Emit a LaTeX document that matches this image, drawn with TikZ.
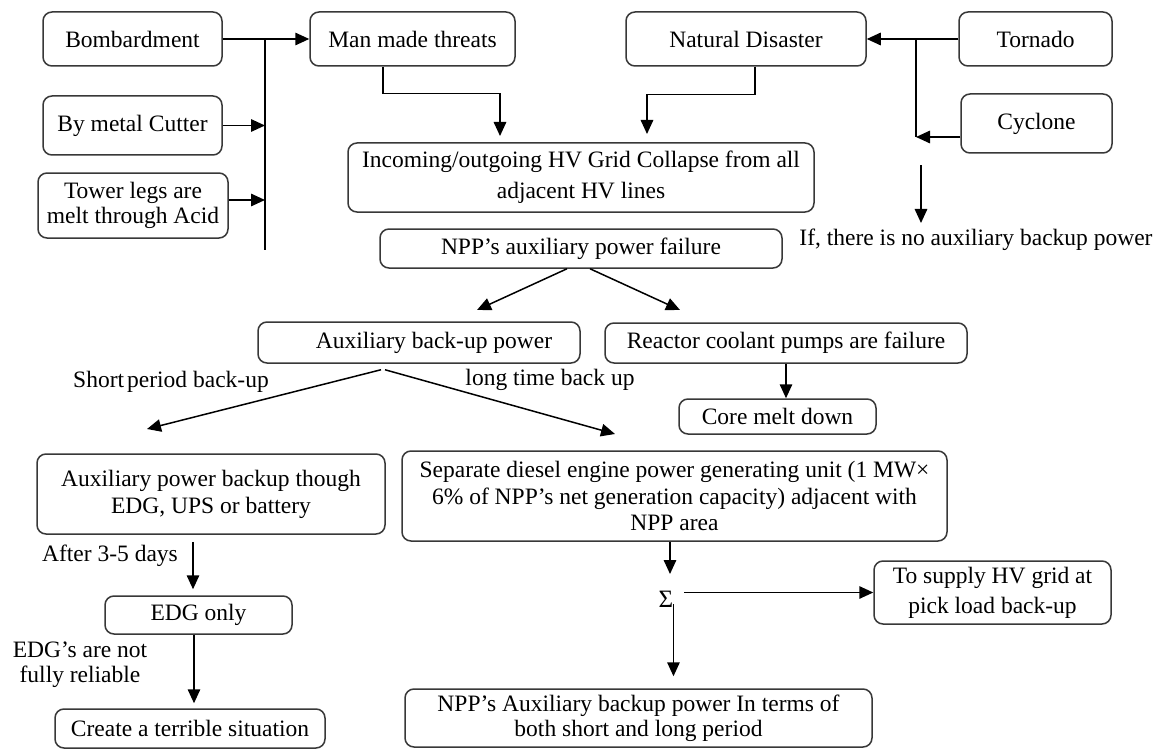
\documentclass[tikz,border=0pt]{standalone}
\usepackage{fontspec}
\setmainfont{Liberation Serif}
\usetikzlibrary{arrows.meta}
\newcommand\dfont{\fontsize{23.5}{26}\selectfont}
\begin{document}
\begin{tikzpicture}[x=1pt,y=-1pt,
  box/.style={draw=black!78, line width=1.5pt, rounded corners=9pt, inner sep=0pt, align=center, font=\dfont},
  lbl/.style={inner sep=1pt, align=center, font=\dfont},
  ln/.style={line width=1.5pt, black},
  arr/.style={ln, -{Triangle[length=14pt,width=12.5pt]}}]
\fill[white] (0,0) rectangle (1159,749);
\useasboundingbox (0,0) rectangle (1159,749);
% boxes
\node[box, minimum width=179, minimum height=54] (bomb) at (132.5,39) {Bombardment};
\node[box, minimum width=179, minimum height=59] (cut) at (132.5,125.5) {By metal Cutter};
\node[box, minimum width=190, minimum height=65, font=\fontsize{23.5}{25}\selectfont] (tower) at (133,205.5) {Tower legs are\\melt through Acid};
\node[box, minimum width=205, minimum height=54] (man) at (412.5,39) {Man made threats};
\node[box, minimum width=240, minimum height=54] (nat) at (746,39) {Natural Disaster};
\node[box, minimum width=153, minimum height=54] (torn) at (1035.5,39) {Tornado};
\node[box, minimum width=151, minimum height=59] (cyc) at (1036.5,123.5) {Cyclone};
\node[box, minimum width=466, minimum height=69, font=\fontsize{23.5}{31}\selectfont] (inc) at (581,177.5) {Incoming/outgoing HV Grid Collapse from all\\adjacent HV lines};
\node[box, minimum width=402, minimum height=39] (npp) at (581,248.5) {NPP’s auxiliary power failure};
\node[box, minimum width=322, minimum height=41] (aux) at (419,342.5) {\hspace{30pt}Auxiliary back-up power};
\node[box, minimum width=362, minimum height=40] (rcp) at (786,343) {Reactor coolant pumps are failure};
\node[box, minimum width=197, minimum height=35] (core) at (777.5,416.5) {Core melt down};
\node[box, minimum width=348, minimum height=80, font=\fontsize{23.5}{27}\selectfont] (apb) at (211,494) {Auxiliary power backup though\\EDG, UPS or battery};
\node[box, minimum width=545, minimum height=90, font=\fontsize{23.5}{26.5}\selectfont] (sep) at (674.5,496) {Separate diesel engine power generating unit (1 MW×\\6\% of NPP’s net generation capacity) adjacent with\\NPP area};
\node[box, minimum width=187, minimum height=38] (edg) at (198.5,615) {EDG only};
\node[box, minimum width=270, minimum height=39] (cre) at (190,728.5) {Create a terrible situation};
\node[box, minimum width=237, minimum height=63, font=\fontsize{23.5}{30}\selectfont] (sup) at (992.5,592.5) {To supply HV grid at\\pick load back-up};
\node[box, minimum width=467, minimum height=58, font=\fontsize{23.5}{25}\selectfont] (npa) at (638.5,718) {NPP’s Auxiliary backup power In terms of\\both short and long period};
% labels
\node[lbl] (iftxt) at (976,240) {If, there is no auxiliary backup power};
\node[lbl] (shortl) at (171,382) {Short\hspace{3pt}period back-up};
\node[lbl] (longl) at (550,380) {long time back up};
\node[lbl] (afterl) at (110,556) {After 3-5 days};
\node[lbl, font=\fontsize{23.5}{25}\selectfont] (edgl) at (80,665) {EDG’s are not\\fully reliable};
\node[inner sep=0pt, font=\fontsize{25}{26}\selectfont] (sig) at (666,599) {Σ};
% coordinates for free ends
\coordinate (bt) at (265,40);
\coordinate (bb) at (265,250);
\coordinate (iA) at (500,136);
\coordinate (iB) at (647,134);
\coordinate (tj) at (916,40);
\coordinate (cj) at (916,137);
\coordinate (dtop) at (921,165);
\coordinate (a1) at (477,310);
\coordinate (a2) at (680,310);
\coordinate (s1) at (147,429);
\coordinate (s2) at (615,434);
\coordinate (sg1) at (670,574);
% connectors
\draw[ln] (bt) -- (bb);
\draw[arr] (bomb.east) -- (man.west);
\draw[arr] (cut.east) -- (cut.east -| bt);
\draw[arr] ([yshift=5.5pt]tower.east) -- ([yshift=5.5pt]tower.east -| bt);
\draw[arr] ([xshift=-29.5pt]man.south) -- ++(0,27) -| (iA);
\draw[arr] ([xshift=9pt]nat.south) -- ++(0,28) -| (iB);
\draw[arr] (torn.west) -- (nat.east);
\draw[ln] (tj) -- (cj);
\draw[arr] ([yshift=-13.5pt]cyc.west) -- (cj);
\draw[arr, shorten >=5pt] (dtop) -- (dtop |- iftxt.north);
\draw[arr] ([xshift=-14pt]npp.south) -- (a1);
\draw[arr] ([xshift=9pt]npp.south) -- (a2);
\draw[arr] ([xshift=-38pt,yshift=-6pt]aux.south) -- (s1);
\draw[arr] ([xshift=-34pt,yshift=-6pt]aux.south) -- (s2);
\draw[arr] (rcp.south) -- (rcp.south |- core.north);
\draw[arr, shorten >=6pt] ([xshift=-18pt,yshift=-7pt]apb.south) -- ([xshift=-18pt]apb.south |- edg.north);
\draw[arr, shorten >=5pt] ([xshift=-4.5pt]edg.south) -- ([xshift=-4.5pt]edg.south |- cre.north);
\draw[arr] ([xshift=-4.5pt]sep.south) -- (sg1);
\draw[arr] ([xshift=11pt]sig.east |- sup.west) -- (sup.west);
\draw[arr, shorten >=12pt] ([yshift=3pt]sig.south east) -- (sig.south east |- npa.north);
\end{tikzpicture}
\end{document}
